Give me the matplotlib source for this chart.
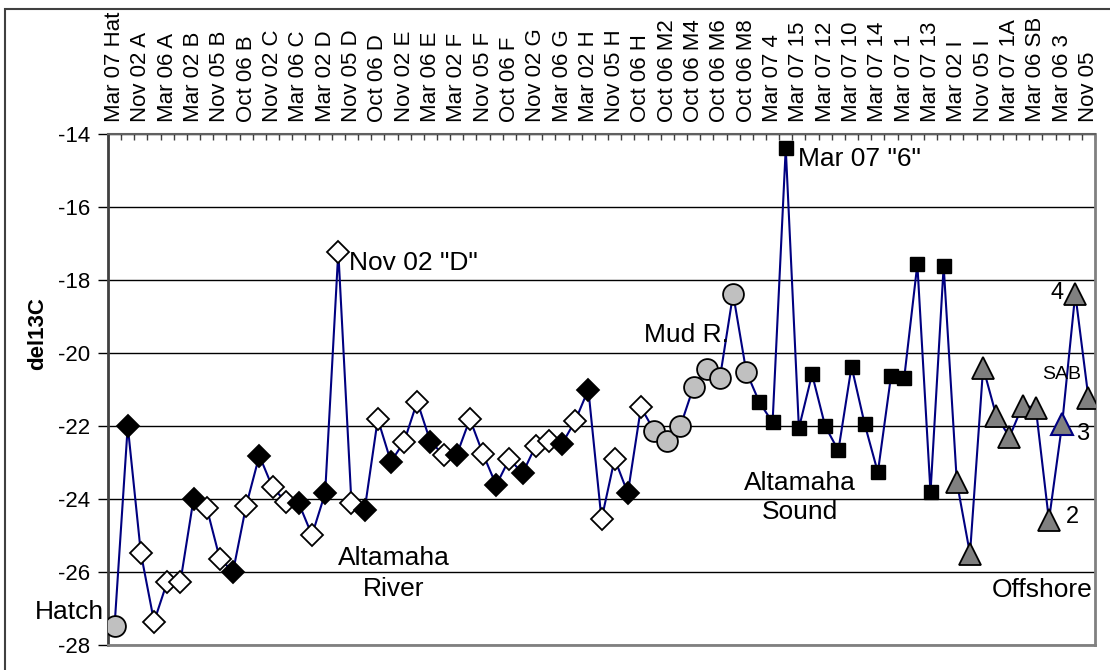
import matplotlib.pyplot as plt
from matplotlib.patches import Rectangle

plt.rcParams['font.family'] = ['Liberation Sans', 'DejaVu Sans']
plt.rcParams['axes.unicode_minus'] = False

# del13C per sample, in plotting order (75 samples)
hatch = [-27.47]
river = [-22.0, -25.49, -27.36, -26.27, -26.27, -24.0, -24.24, -25.64, -25.99, -24.18,
         -22.81, -23.68, -24.07, -24.12, -24.99, -23.84, -17.22, -24.12, -24.30, -21.81,
         -22.98, -22.43, -21.33, -22.43, -22.79, -22.79, -21.81, -22.77, -23.62, -22.90,
         -23.30, -22.54, -22.41, -22.49, -21.86, -21.0, -24.56, -22.90, -23.84, -21.49]
# which river samples are filled (black) diamonds
river_filled = [1, 0, 0, 0, 0, 1, 0, 0, 1, 0,
                1, 0, 0, 1, 0, 1, 0, 0, 1, 0,
                1, 0, 0, 1, 0, 1, 0, 0, 1, 0,
                1, 0, 0, 1, 0, 1, 0, 0, 1, 0]
mud = [-22.13, -22.40, -22.0, -20.92, -20.45, -20.68, -18.38, -20.51]
sound = [-21.35, -21.9, -14.39, -22.06, -20.58, -22.01, -22.67, -20.37, -21.95, -23.27,
         -20.63, -20.69, -17.57, -23.82, -17.62]
offshore = [-23.53, -25.50, -20.40, -21.72, -22.30, -21.44, -21.50, -24.58, -21.95, -18.38,
            -21.22]
offshore_open = 8  # position in offshore drawn with a blue-edged marker

tick_labels = ['Mar 07 Hat', 'Nov 02 A', 'Mar 06 A', 'Mar 02 B', 'Nov 05 B', 'Oct 06 B',
               'Nov 02 C', 'Mar 06 C', 'Mar 02 D', 'Nov 05 D', 'Oct 06 D', 'Nov 02 E',
               'Mar 06 E', 'Mar 02 F', 'Nov 05 F', 'Oct 06 F', 'Nov 02 G', 'Mar 06 G',
               'Mar 02 H', 'Nov 05 H', 'Oct 06 H', 'Oct 06 M2', 'Oct 06 M4', 'Oct 06 M6',
               'Oct 06 M8', 'Mar 07 4', 'Mar 07 15', 'Mar 07 12', 'Mar 07 10', 'Mar 07 14',
               'Mar 07 1', 'Mar 07 13', 'Mar 02 I', 'Nov 05 I', 'Mar 07 1A', 'Mar 06 SB',
               'Mar 06 3', 'Nov 05']

y = hatch + river + mud + sound + offshore
n = len(y)
x = list(range(n))

fig = plt.figure(figsize=(11.1, 6.7), dpi=100)
ax = fig.add_axes([108 / 1110, 25 / 670, 987 / 1110, 511 / 670])

ax.plot(x, y, '-', color='#000080', lw=1.5, zorder=2)

# marker groups
i0 = 0
ax.plot([i0], hatch, 'o', ms=15, mfc='#c0c0c0', mec='black', mew=1.3, zorder=3)
i0 += len(hatch)
for k, v in enumerate(river):
    fc = 'black' if river_filled[k] else 'white'
    ax.plot([i0 + k], [v], 'D', ms=11, mfc=fc, mec='black', mew=1.3, zorder=3)
i0 += len(river)
ax.plot(range(i0, i0 + len(mud)), mud, 'o', ms=15, mfc='#c0c0c0', mec='black', mew=1.3, zorder=3)
i0 += len(mud)
ax.plot(range(i0, i0 + len(sound)), sound, 's', ms=10, mfc='black', mec='black', zorder=3)
i0 += len(sound)
for k, v in enumerate(offshore):
    if k == offshore_open:
        ax.plot([i0 + k], [v], '^', ms=16, mfc='#808080', mec='#000080', mew=1.5, zorder=3)
    else:
        ax.plot([i0 + k], [v], '^', ms=16, mfc='#808080', mec='black', mew=1.3, zorder=3)

ax.set_xlim(-0.5, n - 0.5)
ax.set_ylim(-28, -14)
ax.set_yticks(range(-28, -13, 2))
ax.grid(axis='y', color='black', lw=1)
ax.set_axisbelow(True)

# category axis on top
ax.xaxis.tick_top()
ax.set_xticks([i + 0.5 for i in range(-1, n)], minor=True)
ax.set_xticks(range(0, n, 2))
ax.set_xticklabels(tick_labels, rotation=90, fontsize=16)
ax.tick_params(axis='x', which='major', length=0, pad=9)
ax.tick_params(axis='x', which='minor', direction='in', length=4, width=1, color='#404040')
ax.tick_params(axis='y', direction='out', length=7, width=1, labelsize=16, pad=6)

for s in ['bottom', 'right']:
    ax.spines[s].set_color('#808080')
    ax.spines[s].set_linewidth(2)
ax.spines['top'].set_color('#606060')
ax.spines['top'].set_linewidth(1.5)
ax.spines['left'].set_color('#404040')
ax.spines['left'].set_linewidth(2)

fig.text(38 / 1110, 1 - 334 / 670, 'del13C', rotation=90, fontsize=16, fontweight='bold',
         ha='center', va='center')

# annotations
ax.text(17.8, -17.53, 'Nov 02 "D"', fontsize=19, va='center', ha='left')
ax.text(51.9, -14.69, 'Mar 07 "6"', fontsize=19, va='center', ha='left')
ax.text(40.2, -19.5, 'Mud R.', fontsize=19, va='center', ha='left')
ax.text(21.2, -26.04, 'Altamaha\nRiver', fontsize=19, va='center', ha='center', linespacing=1.35)
ax.text(52.1, -23.96, 'Altamaha\nSound', fontsize=19, va='center', ha='center', linespacing=1.3)
ax.text(74.3, -26.49, 'Offshore', fontsize=19, va='center', ha='right')
ax.text(-0.8, -27.1, 'Hatch', fontsize=19, va='center', ha='right', clip_on=False)
ax.text(72.1, -18.36, '4', fontsize=17, va='center', ha='right')
ax.text(71.95, -20.58, 'SAB', fontsize=14, va='center', ha='center')
ax.text(73.1, -22.22, '3', fontsize=17, va='center', ha='left')
ax.text(72.3, -24.48, '2', fontsize=17, va='center', ha='left')

# chart area border
fig.patches.append(Rectangle((5 / 1110, -0.1), 1.2, 1 - 9 / 670 + 0.1, transform=fig.transFigure,
                             fill=False, ec='#404040', lw=1.5))

fig.savefig('out.png', dpi=100)
print('finish')
